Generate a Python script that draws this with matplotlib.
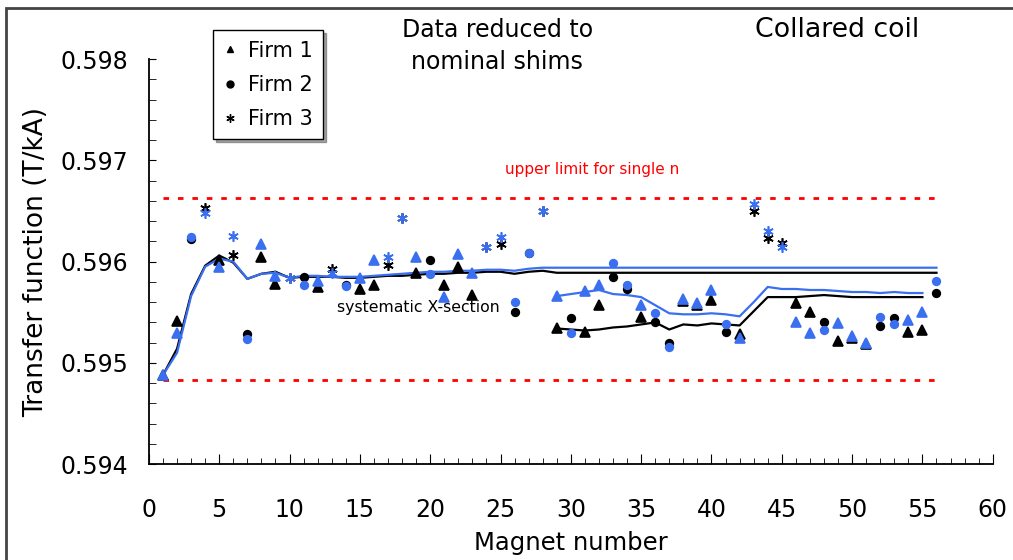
import numpy as np
import matplotlib.pyplot as plt
from matplotlib.lines import Line2D
from matplotlib.patches import Rectangle

plt.rcParams['font.family'] = ['DejaVu Sans']

# data
magnets = list(range(1, 57))
firm = [1, 1, 2, 3, 1, 3, 2, 1, 1, 3, 2, 1, 3, 2, 1, 1, 3, 3, 1, 2,
        1, 1, 1, 3, 3, 2, 2, 3, 1, 2, 1, 1, 2, 2, 1, 2, 2, 1, 1, 1,
        2, 1, 3, 3, 3, 1, 1, 2, 1, 1, 1, 2, 2, 1, 1, 2]
tf_black = [0.59488, 0.59541, 0.59622, 0.59653, 0.59602, 0.59607, 0.59529, 0.59605,
            0.59578, 0.59584, 0.59585, 0.59575, 0.59593, 0.59577, 0.59573, 0.59577,
            0.59597, 0.59643, 0.59589, 0.59602, 0.59577, 0.59595, 0.59567, 0.59614,
            0.59617, 0.59550, 0.59609, 0.59650, 0.59534, 0.59544, 0.59531, 0.59557,
            0.59585, 0.59573, 0.59545, 0.59540, 0.59520, 0.59561, 0.59557, 0.59562,
            0.59531, 0.59529, 0.59650, 0.59623, 0.59618, 0.59559, 0.59550, 0.59540,
            0.59522, 0.59525, 0.59519, 0.59536, 0.59544, 0.59531, 0.59533, 0.59569]
tf_blue = [0.59488, 0.59530, 0.59624, 0.59648, 0.59595, 0.59625, 0.59524, 0.59617,
           0.59586, 0.59584, 0.59577, 0.59581, 0.59589, 0.59576, 0.59584, 0.59602,
           0.59605, 0.59643, 0.59605, 0.59588, 0.59565, 0.59608, 0.59589, 0.59614,
           0.59624, 0.59560, 0.59609, 0.59650, 0.59566, 0.59530, 0.59571, 0.59577,
           0.59599, 0.59577, 0.59557, 0.59549, 0.59516, 0.59563, 0.59559, 0.59572,
           0.59538, 0.59525, 0.59657, 0.59630, 0.59614, 0.59540, 0.59530, 0.59533,
           0.59539, 0.59527, 0.59520, 0.59545, 0.59538, 0.59542, 0.59550, 0.59581]

# systematic X-section lines
sys_black = [0.59488, 0.59514, 0.59568, 0.59596, 0.59606, 0.59599, 0.59583, 0.59588,
             0.59590, 0.59584, 0.59585, 0.59585, 0.59585, 0.59584, 0.59584, 0.59585,
             0.59586, 0.59586, 0.59587, 0.59588, 0.59588, 0.59589, 0.59589, 0.59590,
             0.59590, 0.59588, 0.59590, 0.59591] + [0.59589] * 28
sys_blue = [0.59488, 0.59510, 0.59566, 0.59595, 0.59603, 0.59600, 0.59583, 0.59588,
            0.59589, 0.59584, 0.59586, 0.59586, 0.59585, 0.59585, 0.59585, 0.59586,
            0.59587, 0.59588, 0.59589, 0.59590, 0.59590, 0.59591, 0.59591, 0.59592,
            0.59592, 0.59591, 0.59593, 0.59594] + [0.59594] * 28
sub_magnets = list(range(29, 56))
sub_black = [0.59534, 0.59533, 0.59532, 0.59533, 0.59535, 0.59536, 0.59538, 0.59540,
             0.59533, 0.59538, 0.59537, 0.59539, 0.59538, 0.59537, 0.59551, 0.59565,
             0.59565, 0.59565, 0.59566, 0.59567, 0.59566, 0.59565, 0.59565, 0.59565,
             0.59565, 0.59565, 0.59565]
sub_blue = [0.59566, 0.59568, 0.59570, 0.59572, 0.59568, 0.59567, 0.59565, 0.59557,
            0.59549, 0.59548, 0.59548, 0.59549, 0.59548, 0.59546, 0.59560, 0.59575,
            0.59573, 0.59573, 0.59572, 0.59572, 0.59571, 0.59570, 0.59570, 0.59569,
            0.59570, 0.59569, 0.59569]

limit_x = [1, 56]
upper_limit = 0.59663
lower_limit = 0.59483

blue = '#3a6ff0'
markers = {1: ('^', 6.8), 2: ('o', 5.5), 3: ((6, 2, 0), 7.5)}

fig = plt.figure(figsize=(10.13, 5.6), dpi=100)
ax = fig.add_axes([0.147, 0.171, 0.833, 0.7236])

ax.plot(limit_x, [upper_limit] * 2, color='red', lw=2, ls=(0, (2, 3.2)))
ax.plot(limit_x, [lower_limit] * 2, color='red', lw=2, ls=(0, (2, 3.2)))

ax.plot(magnets, sys_black, color='black', lw=1.6)
ax.plot(magnets, sys_blue, color=blue, lw=1.6)
ax.plot(sub_magnets, sub_black, color='black', lw=1.6)
ax.plot(sub_magnets, sub_blue, color=blue, lw=1.6)

x = np.array(magnets)
f = np.array(firm)
for vals, col in [(tf_black, 'black'), (tf_blue, blue)]:
    v = np.array(vals)
    for k, (m, ms) in markers.items():
        sel = f == k
        ax.plot(x[sel], v[sel], ls='none', marker=m, ms=ms, color=col,
                mec=col, mew=1.2)

ax.text(31.5, 0.59691, 'upper limit for single n', color='red', fontsize=11,
        ha='center', va='center')
ax.text(13.4, 0.595545, 'systematic X-section', color='black', fontsize=11.3,
        ha='left', va='center')

ax.set_xlim(0, 60)
ax.set_ylim(0.594, 0.598)
ax.set_xticks(range(0, 61, 5))
ax.set_xticks(range(0, 61), minor=True)
ax.set_yticks([0.594, 0.595, 0.596, 0.597, 0.598])
ax.set_yticks(np.arange(0.594, 0.5981, 0.0002), minor=True)
ax.set_yticklabels(['0.594', '0.595', '0.596', '0.597', '0.598'])
ax.tick_params(axis='both', which='both', direction='in', labelsize=17)
ax.tick_params(axis='x', which='major', length=7, pad=24)
ax.tick_params(axis='x', which='minor', length=4)
ax.tick_params(axis='y', which='both', length=5, pad=15)
for s in ['top', 'right']:
    ax.spines[s].set_visible(False)
for s in ['left', 'bottom']:
    ax.spines[s].set_linewidth(1.3)

ax.set_xlabel('Magnet number', fontsize=17.5, labelpad=7)
ax.set_ylabel('Transfer function (T/kA)', fontsize=19, labelpad=8)

handles = [Line2D([], [], ls='none', marker='^', ms=5, color='black'),
           Line2D([], [], ls='none', marker='o', ms=5, color='black'),
           Line2D([], [], ls='none', marker=(6, 2, 0), ms=6, color='black')]
leg = fig.legend(handles, ['Firm 1', 'Firm 2', 'Firm 3'], loc='upper left',
                 bbox_to_anchor=(0.21, 0.946), fontsize=15, frameon=True,
                 fancybox=False, shadow=True, edgecolor='black',
                 handlelength=0.7, handletextpad=0.5, labelspacing=0.68,
                 borderpad=0.5, borderaxespad=0)
leg.get_frame().set_linewidth(1.0)

fig.text(0.491, 0.947, 'Data reduced to', fontsize=17, ha='center', va='center')
fig.text(0.491, 0.889, 'nominal shims', fontsize=17, ha='center', va='center')
fig.text(0.826, 0.947, 'Collared coil', fontsize=19.3, ha='center', va='center')

fig.patches.append(Rectangle((6 / 1013, -0.05), 1.1, 1.05 - 8 / 560,
                             transform=fig.transFigure, fill=False,
                             edgecolor='#444444', lw=2))

fig.savefig('out.png', dpi=100)
